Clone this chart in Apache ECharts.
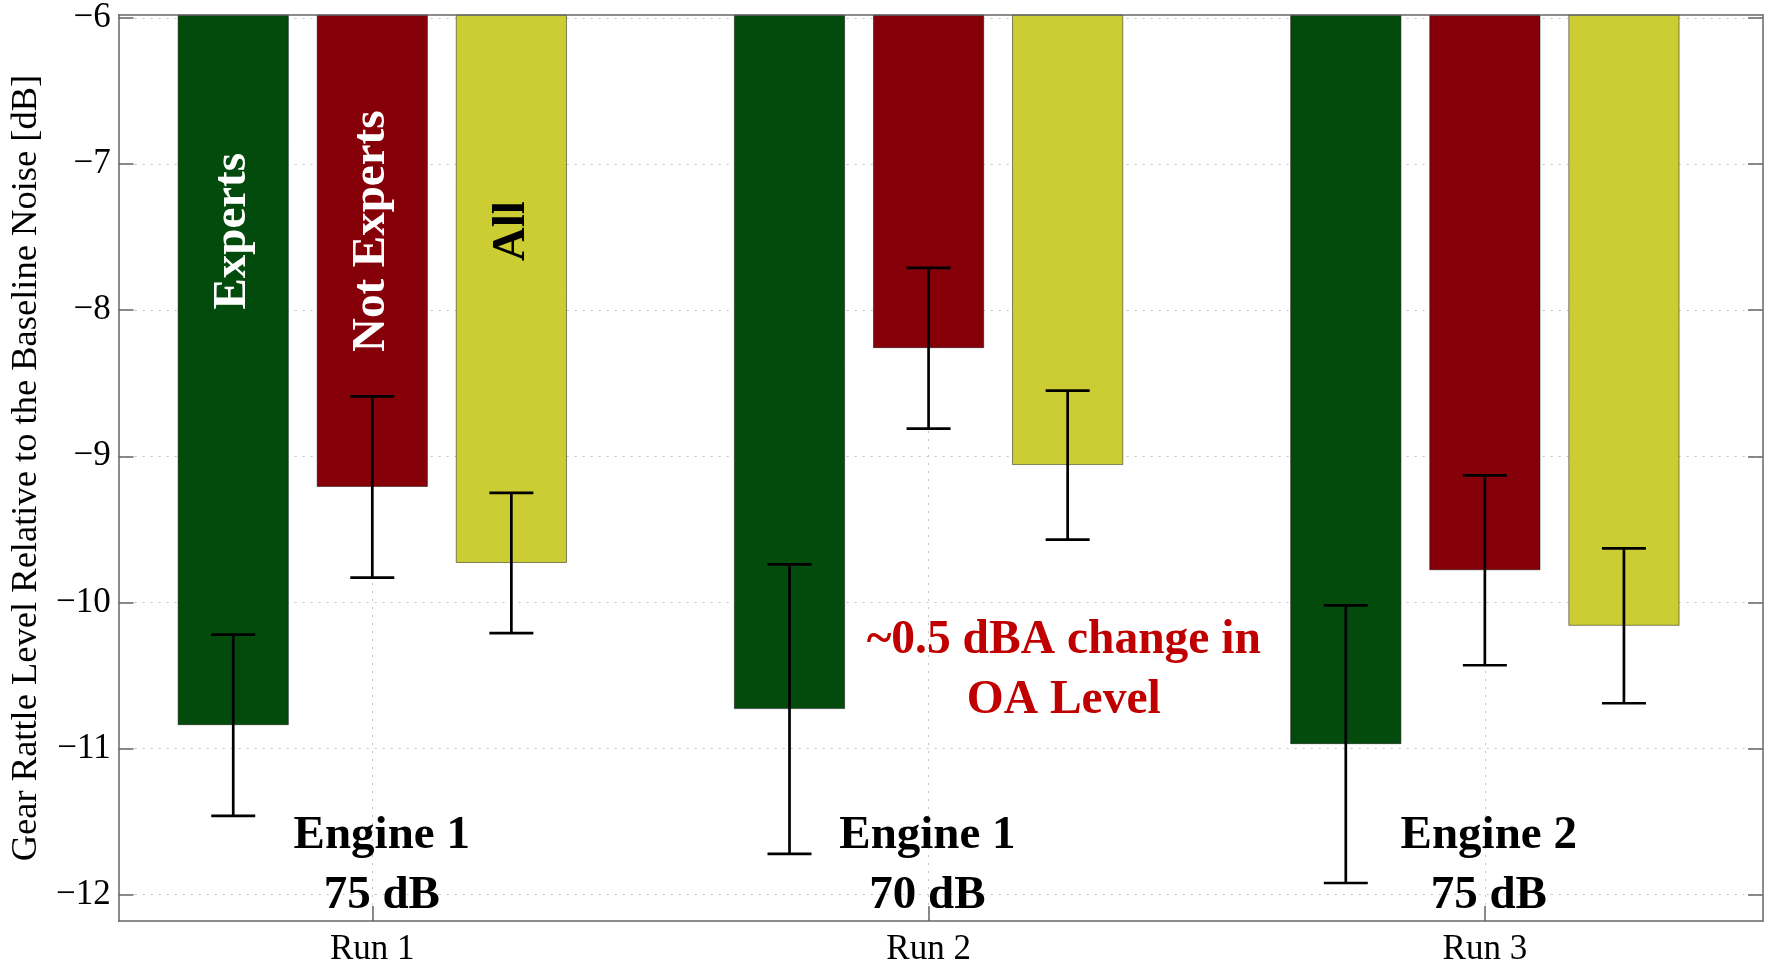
<!DOCTYPE html>
<html>
<head>
    <meta charset="utf-8">
    <script src="https://cdn.jsdelivr.net/npm/echarts@6.0.0/dist/echarts.min.js"></script>
</head>
<body style="margin:0;background-color:#fff;">
    <div id="container" style="width:1768px;height:967px;"></div>
    <script type="text/javascript">
        // categories / ticks
        var runs = ['Run 1', 'Run 2', 'Run 3'];
        var runPos = [1, 2, 3];
        var yTicks = [-12, -11, -10, -9, -8, -7, -6];
        var groupNames = ['Experts', 'Not Experts', 'All'];

        // mean level per run and half width of the error bar
        var experts = [-10.84, -10.73, -10.97];
        var expertsErr = [0.62, 0.99, 0.95];
        var notExperts = [-9.21, -8.26, -9.78];
        var notExpertsErr = [0.62, 0.55, 0.65];
        var all = [-9.73, -9.06, -10.16];
        var allErr = [0.48, 0.51, 0.53];

        var engineText = ['Engine 1\n75 dB', 'Engine 1\n70 dB', 'Engine 2\n75 dB'];
        var noteText = '~0.5 dBA change in\nOA Level';

        var font = "'Liberation Serif', 'Times New Roman', serif";
        var colors = ['#024b0c', '#850008', '#cccc33'];
        var axisColor = '#666';
        var groupOffset = [-0.25, 0, 0.25]; // follows barWidth 20% + barGap 25%
        var yMin = -12.18, yMax = -5.98;
        var xMin = 0.544, xMax = 3.5;

        var dom = document.getElementById('container');
        var myChart = echarts.init(dom);

        var groups = [experts, notExperts, all];
        var groupErrs = [expertsErr, notExpertsErr, allErr];

        var series = [];
        for (var g = 0; g < groups.length; g++) {
            series.push({
                name: groupNames[g],
                type: 'bar',
                data: groups[g].map(function (v, i) { return [runPos[i], v]; }),
                barWidth: '20%',
                barGap: '25%',
                clip: true,
                z: 2,
                itemStyle: {
                    color: colors[g],
                    borderColor: 'rgba(0,0,0,0.45)',
                    borderWidth: 1
                }
            });
        }

        var errData = [];
        for (var g = 0; g < groups.length; g++) {
            for (var i = 0; i < runPos.length; i++) {
                errData.push([runPos[i] + groupOffset[g], groups[g][i], groupErrs[g][i]]);
            }
        }
        series.push({
            type: 'custom',
            z: 4,
            data: errData,
            encode: { x: 0, y: 1 },
            renderItem: function (params, api) {
                var x = api.value(0), v = api.value(1), e = api.value(2);
                var top = api.coord([x, v + e]);
                var bot = api.coord([x, v - e]);
                var cap = 22;
                var st = { stroke: '#000', lineWidth: 2.7 };
                return {
                    type: 'group',
                    children: [
                        { type: 'line', shape: { x1: top[0], y1: top[1], x2: bot[0], y2: bot[1] }, style: st },
                        { type: 'line', shape: { x1: top[0] - cap, y1: top[1], x2: top[0] + cap, y2: top[1] }, style: st },
                        { type: 'line', shape: { x1: bot[0] - cap, y1: bot[1], x2: bot[0] + cap, y2: bot[1] }, style: st }
                    ]
                };
            }
        });

        var gridLine = { show: true, lineStyle: { color: '#c4c4c4', width: 1, type: [2, 6] } };
        var tickStyle = { color: axisColor, width: 1.5 };

        var option = {
            backgroundColor: '#fff',
            animation: false,
            grid: { left: 118, right: 5, top: 15, bottom: 43 },
            xAxis: [{
                type: 'value',
                min: xMin,
                max: xMax,
                position: 'bottom',
                axisLine: { show: true, onZero: false, lineStyle: { color: axisColor, width: 1.5 } },
                axisTick: { show: true, inside: true, length: 15, customValues: runPos, lineStyle: tickStyle },
                axisLabel: {
                    customValues: runPos,
                    margin: 11,
                    color: '#000',
                    fontSize: 35,
                    fontFamily: font,
                    formatter: function (v) { return runs[runPos.indexOf(v)]; }
                },
                splitLine: gridLine
            }, {
                type: 'value',
                min: xMin,
                max: xMax,
                position: 'top',
                z: 5,
                axisLine: { show: true, onZero: false, lineStyle: { color: axisColor, width: 1.5 } },
                axisTick: { show: false },
                axisLabel: { show: false },
                splitLine: { show: false }
            }],
            yAxis: [{
                type: 'value',
                min: yMin,
                max: yMax,
                position: 'left',
                name: 'Gear Rattle Level Relative to the Baseline Noise [dB]',
                nameLocation: 'middle',
                nameGap: 63,
                nameTextStyle: { color: '#000', fontSize: 36.5, fontFamily: font },
                axisLine: { show: true, onZero: false, lineStyle: { color: axisColor, width: 1.5 } },
                axisTick: { show: true, inside: true, length: 15, customValues: yTicks, lineStyle: tickStyle },
                axisLabel: {
                    customValues: yTicks,
                    margin: 8,
                    color: '#000',
                    fontSize: 35,
                    fontFamily: font,
                    formatter: function (v) { return String(v).replace('-', '\u2212'); }
                },
                splitLine: gridLine
            }, {
                type: 'value',
                min: yMin,
                max: yMax,
                position: 'right',
                z: 5,
                axisLine: { show: true, onZero: false, lineStyle: { color: axisColor, width: 1.5 } },
                axisTick: { show: true, inside: true, length: 15, customValues: yTicks, lineStyle: tickStyle },
                axisLabel: { show: false },
                splitLine: { show: false }
            }],
            series: series
        };
        myChart.setOption(option);

        // text annotations placed through the chart's own scales
        var graphics = [];
        var labelColors = ['#fff', '#fff', '#000'];
        for (var g = 0; g < groupNames.length; g++) {
            var p = myChart.convertToPixel({ gridIndex: 0 }, [runPos[0] + groupOffset[g], -7.46]);
            graphics.push({
                type: 'text',
                x: p[0],
                y: p[1],
                rotation: Math.PI / 2,
                z: 10,
                style: {
                    text: groupNames[g],
                    fill: labelColors[g],
                    font: 'bold 47px ' + font,
                    align: 'center',
                    verticalAlign: 'middle'
                }
            });
        }
        var engineX = [1.017, 1.998, 3.007];
        for (var i = 0; i < engineText.length; i++) {
            var p = myChart.convertToPixel({ gridIndex: 0 }, [engineX[i], -11.805]);
            graphics.push({
                type: 'text',
                x: p[0],
                y: p[1],
                z: 10,
                style: {
                    text: engineText[i],
                    fill: '#000',
                    font: 'bold 47px ' + font,
                    lineHeight: 60,
                    align: 'center',
                    verticalAlign: 'middle'
                }
            });
        }
        var np = myChart.convertToPixel({ gridIndex: 0 }, [2.243, -10.468]);
        graphics.push({
            type: 'text',
            x: np[0],
            y: np[1],
            z: 10,
            style: {
                text: noteText,
                fill: '#c00000',
                font: 'bold 47.5px ' + font,
                lineHeight: 59.5,
                align: 'center',
                verticalAlign: 'middle'
            }
        });
        myChart.setOption({ graphic: graphics });
    </script>
</body>
</html>
